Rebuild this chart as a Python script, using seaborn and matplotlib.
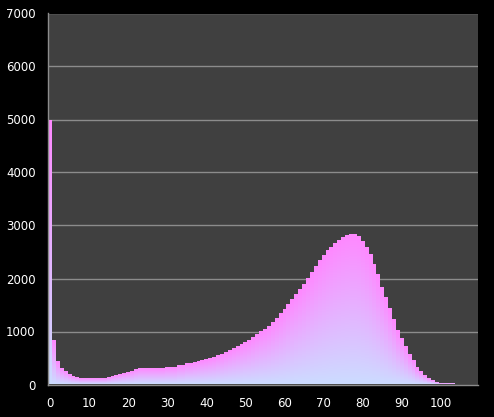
"""
Histogram with gradient bars on a dark background
"""

import numpy as np
import pandas as pd
import matplotlib
matplotlib.use('Agg')
import matplotlib.pyplot as plt
import seaborn as sns
from matplotlib.colors import LinearSegmentedColormap

# bin values, one per category 0..109
bins = list(range(110))
counts = [
    4970, 815, 420, 295, 230, 185, 150, 125, 105, 97,
    95, 95, 95, 97, 105, 118, 135, 155, 175, 200,
    225, 240, 268, 285, 287, 287, 287, 290, 298, 292,
    317, 317, 320, 343, 345, 381, 390, 405, 418, 437,
    455, 480, 505, 535, 565, 600, 635, 670, 705, 740,
    775, 820, 877, 934, 984, 1028, 1091, 1160, 1242, 1324,
    1405, 1500, 1594, 1683, 1783, 1883, 1984, 2104, 2211, 2324,
    2418, 2513, 2581, 2644, 2701, 2758, 2802, 2821, 2821, 2777,
    2695, 2569, 2443, 2255, 2066, 1815, 1640, 1420, 1217, 1010,
    855, 700, 550, 450, 320, 242, 160, 110, 66, 34,
    12, 4, 2, 1, 0, 0, 0, 0, 0, 0,
]
y_ticks = [0, 1000, 2000, 3000, 4000, 5000, 6000, 7000]
x_labels = [0, 10, 20, 30, 40, 50, 60, 70, 80, 90, 100]

colors = {
    'fig_bg': '#000000',
    'ax_bg': '#404040',
    'grid': '#8c8c8c',
    'text': '#ffffff',
    'bar_top': '#ff88ff',
    'bar_bottom': '#ccdcff',
}

df = pd.DataFrame({'bin': bins, 'count': counts})

sns.set_style('dark')
fig = plt.figure(figsize=(4.94, 4.17), dpi=100, facecolor=colors['fig_bg'])
ax = fig.add_axes([48 / 494, (417 - 384.5) / 417, 430 / 494, 371 / 417])
ax.set_facecolor(colors['ax_bg'])

sns.barplot(data=df, x='bin', y='count', width=1.0, ax=ax,
            color=colors['bar_top'], linewidth=0, native_scale=True)

# replace flat fill with a vertical gradient per bar
cmap = LinearSegmentedColormap.from_list('bar', [colors['bar_bottom'], colors['bar_top']])
grad = np.linspace(0, 1, 256).reshape(-1, 1)
for p in ax.patches:
    h = p.get_height()
    if h <= 0:
        p.set_visible(False)
        continue
    x0 = p.get_x()
    ax.imshow(grad, extent=[x0, x0 + p.get_width(), 0, h], origin='lower',
              aspect='auto', cmap=cmap, zorder=2, interpolation='bilinear')
    p.set_visible(False)

ax.set_xlim(-0.5, 109.5)
ax.set_ylim(0, 7000)
ax.set_yticks(y_ticks)
ax.set_yticklabels([str(v) for v in y_ticks])
ax.set_xticks(x_labels)
ax.set_xticklabels([str(v) for v in x_labels])
ax.set_xticks(np.arange(-0.5, 110, 1), minor=True)
ax.set_xlabel('')
ax.set_ylabel('')

ax.grid(False)
for v in y_ticks[1:]:
    ax.axhline(v, color=colors['grid'], linewidth=1, zorder=1)

ax.tick_params(axis='x', which='major', length=0, pad=9, labelsize=8.5,
               colors=colors['text'])
ax.tick_params(axis='x', which='minor', length=4, width=1, color=colors['grid'],
               direction='out')
ax.tick_params(axis='y', length=5, width=1, color=colors['grid'],
               labelsize=8.5, labelcolor=colors['text'], pad=4)

for side in ['top', 'right']:
    ax.spines[side].set_visible(False)
for side in ['left', 'bottom']:
    ax.spines[side].set_visible(True)
    ax.spines[side].set_color(colors['grid'])
    ax.spines[side].set_linewidth(1)
    ax.spines[side].set_zorder(3)

fig.savefig('out.png', dpi=100, facecolor=colors['fig_bg'])
plt.close(fig)
